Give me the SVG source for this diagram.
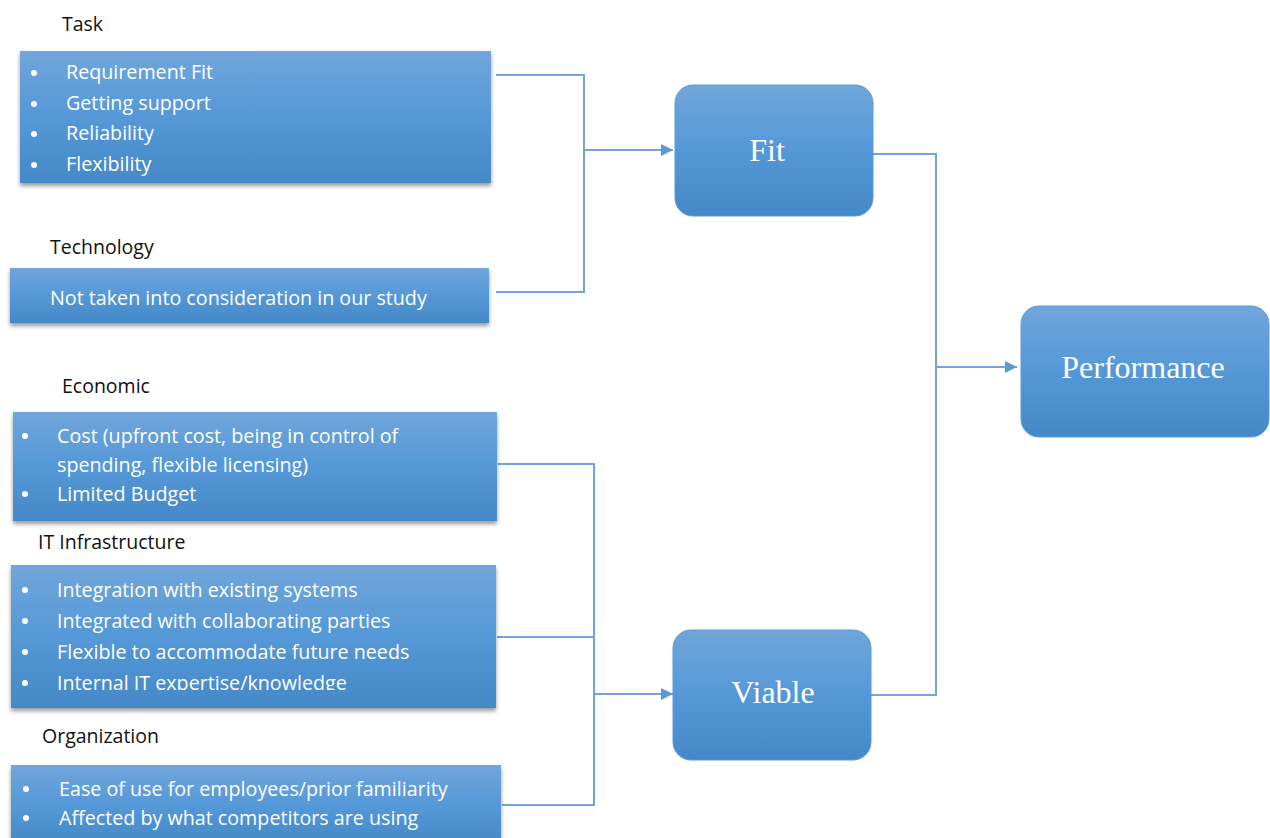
<svg xmlns="http://www.w3.org/2000/svg" width="1270" height="838" viewBox="0 0 1270 838">
<defs>
<linearGradient id="g" x1="0" y1="0" x2="0" y2="1">
<stop offset="0" stop-color="#70A6DB"/>
<stop offset="0.5" stop-color="#5598D8"/>
<stop offset="1" stop-color="#4588C8"/>
</linearGradient>
<filter id="sh" x="-5%" y="-10%" width="110%" height="130%">
<feDropShadow dx="0" dy="3" stdDeviation="2" flood-color="#000" flood-opacity="0.4"/>
</filter>
<marker id="arr2" viewBox="0 0 10 10" refX="10" refY="5" markerWidth="12" markerHeight="12" orient="auto" markerUnits="userSpaceOnUse">
<path d="M0,0 L10,5 L0,10 z" fill="#5B9BD5"/>
</marker>
<clipPath id="itclip"><rect x="11" y="565" width="486" height="125"/></clipPath>
</defs>
<style>
.box{fill:url(#g);filter:url(#sh);}
.rbox{fill:url(#g);stroke:#5B9BD5;stroke-width:1;}
.t{font-family:"Open Sans",Lato,sans-serif;font-size:19.7px;fill:#fff;}
.lbl{font-family:"Open Sans",Lato,sans-serif;font-size:19.5px;fill:#111;}
.big{font-family:"Liberation Serif","Times New Roman",serif;font-size:32px;fill:#fff;text-anchor:middle;}
.c{fill:none;stroke:#6FA5DC;stroke-width:2;}
.dot{fill:#fff;}
</style>
<rect width="1270" height="838" fill="#fff"/>

<g id="connectors">
<polyline class="c" points="496,75 584,75 584,292 496,292"/>
<line class="c" x1="584" y1="150" x2="673" y2="150" marker-end="url(#arr2)"/>
<polyline class="c" points="873,154 936,154 936,695 871,695"/>
<line class="c" x1="936" y1="367" x2="1017" y2="367" marker-end="url(#arr2)"/>
<polyline class="c" points="498,464 594,464 594,805 502,805"/>
<line class="c" x1="497" y1="637" x2="594" y2="637"/>
<line class="c" x1="594" y1="694" x2="673" y2="694" marker-end="url(#arr2)"/>
</g>

<g id="task">
<text class="lbl" x="62" y="31">Task</text>
<rect class="box" x="20" y="51" width="471" height="132"/>
<circle class="dot" cx="34" cy="73" r="3"/><text class="t" x="66" y="79">Requirement Fit</text>
<circle class="dot" cx="34" cy="104" r="3"/><text class="t" x="66" y="110">Getting support</text>
<circle class="dot" cx="34" cy="134" r="3"/><text class="t" x="66" y="140">Reliability</text>
<circle class="dot" cx="34" cy="165" r="3"/><text class="t" x="66" y="171">Flexibility</text>
</g>

<g id="technology">
<text class="lbl" x="50" y="254">Technology</text>
<rect class="box" x="10" y="268" width="479" height="55"/>
<text class="t" x="50" y="305">Not taken into consideration in our study</text>
</g>

<g id="economic">
<text class="lbl" x="62" y="393">Economic</text>
<rect class="box" x="13" y="412" width="484" height="109"/>
<circle class="dot" cx="25" cy="436" r="3"/><text class="t" x="57" y="443">Cost (upfront cost, being in control of</text>
<text class="t" x="57" y="472">spending, flexible licensing)</text>
<circle class="dot" cx="25" cy="494" r="3"/><text class="t" x="57" y="501">Limited Budget</text>
</g>

<g id="it">
<text class="lbl" x="38" y="549">IT Infrastructure</text>
<rect class="box" x="11" y="565" width="485" height="143"/>
<g clip-path="url(#itclip)">
<circle class="dot" cx="25" cy="590" r="3"/><text class="t" x="57" y="597">Integration with existing systems</text>
<circle class="dot" cx="25" cy="621" r="3"/><text class="t" x="57" y="628">Integrated with collaborating parties</text>
<circle class="dot" cx="25" cy="652" r="3"/><text class="t" x="57" y="659">Flexible to accommodate future needs</text>
<circle class="dot" cx="25" cy="683" r="3"/><text class="t" x="57" y="690">Internal IT expertise/knowledge</text>
</g>
</g>

<g id="organization">
<text class="lbl" x="42" y="743">Organization</text>
<rect class="box" x="11" y="765" width="490" height="80"/>
<circle class="dot" cx="26" cy="789" r="3"/><text class="t" x="59" y="796">Ease of use for employees/prior familiarity</text>
<circle class="dot" cx="26" cy="818" r="3"/><text class="t" x="59" y="825">Affected by what competitors are using</text>
</g>

<g id="fit">
<rect class="rbox" x="675" y="85" width="198" height="131" rx="18"/>
<text class="big" x="767" y="161">Fit</text>
</g>

<g id="viable">
<rect class="rbox" x="673" y="630" width="198" height="130" rx="18"/>
<text class="big" x="773" y="703">Viable</text>
</g>

<g id="performance">
<rect class="rbox" x="1021" y="306" width="248" height="131" rx="18"/>
<text class="big" x="1143" y="378">Performance</text>
</g>
</svg>
